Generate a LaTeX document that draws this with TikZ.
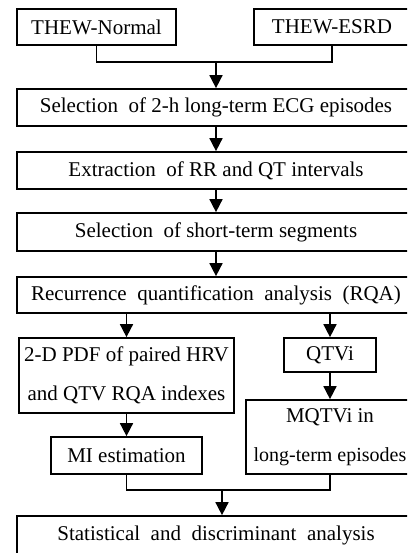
\documentclass[tikz,border=0pt]{standalone}
\usepackage{fontspec}
\setmainfont{Liberation Serif}
\usetikzlibrary{arrows.meta}

\tikzset{
  stagebox/.style={draw=black, line width=1.7pt, fill=white, inner sep=0pt,
    font=\fontsize{21}{39}\selectfont, align=center},
  link/.style={line width=1.6pt, draw=black},
  flow/.style={link, -{Triangle[length=13pt,width=13pt]}}
}

\begin{document}
\begin{tikzpicture}[x=1pt, y=-1pt]
  \useasboundingbox (0,0) rectangle (407,553);
  \fill[white] (0,0) rectangle (407,553);
  \clip (0,0) rectangle (407,553);

  % data sources
  \node[stagebox, minimum width=159pt, minimum height=36pt] (normal) at (96.5,27) {THEW-Normal};
  \node[stagebox, minimum width=156pt, minimum height=36pt] (esrd) at (332,27) {THEW-ESRD};

  % main pipeline
  \node[stagebox, minimum width=398pt, minimum height=37pt] (sel) at (216,107.5) {Selection\ \ of 2-h long-term ECG episodes};
  \node[stagebox, minimum width=398pt, minimum height=37pt] (ext) at (216,170.5) {Extraction\ \ of RR and QT intervals};
  \node[stagebox, minimum width=398pt, minimum height=38pt] (seg) at (216,232) {Selection\ \ of short-term segments};
  \node[stagebox, minimum width=398pt, minimum height=36pt] (rqa) at (216,295) {Recurrence\ \ quantification\ \ analysis\ \ (RQA)};

  % two branches
  \node[stagebox, minimum width=215pt, minimum height=75pt] (pdf) at (126.5,375.5) {2-D PDF of paired HRV\\and QTV RQA indexes};
  \node[stagebox, minimum width=92pt, minimum height=34pt] (qtvi) at (330,355) {QTVi};
  \node[stagebox, minimum width=168pt, minimum height=74pt] (mqtvi) at (330,437)
    {MQTVi in\\{\fontsize{20}{39}\selectfont long-term episodes}};
  \node[stagebox, minimum width=151pt, minimum height=37pt] (mi) at (126.5,455.5) {MI estimation};

  % final stage
  \node[stagebox, minimum width=398pt, minimum height=38pt] (stat) at (216,535) {Statistical\ \ and\ \ discriminant\ \ analysis};

  % merge of the two databases
  \coordinate (topjoin) at (216,62);
  \draw[link] (normal.south) |- (topjoin) -| (esrd.south);
  \draw[flow] (topjoin) -- (sel.north);

  \draw[flow] (sel) -- (ext);
  \draw[flow] (ext) -- (seg);
  \draw[flow] (seg) -- (rqa);

  \draw[flow] (rqa.south -| pdf.north) -- (pdf.north);
  \draw[flow] (rqa.south -| qtvi.north) -- (qtvi.north);
  \draw[flow] (qtvi) -- (qtvi.south |- mqtvi.north);
  \draw[flow] (pdf) -- (mi);

  % merge of the two branches
  \coordinate (botjoin) at (222,490);
  \draw[link] (mi.south) |- (botjoin) -| (mqtvi.south);
  \draw[flow] (botjoin) -- (botjoin |- stat.north);
\end{tikzpicture}
\end{document}
